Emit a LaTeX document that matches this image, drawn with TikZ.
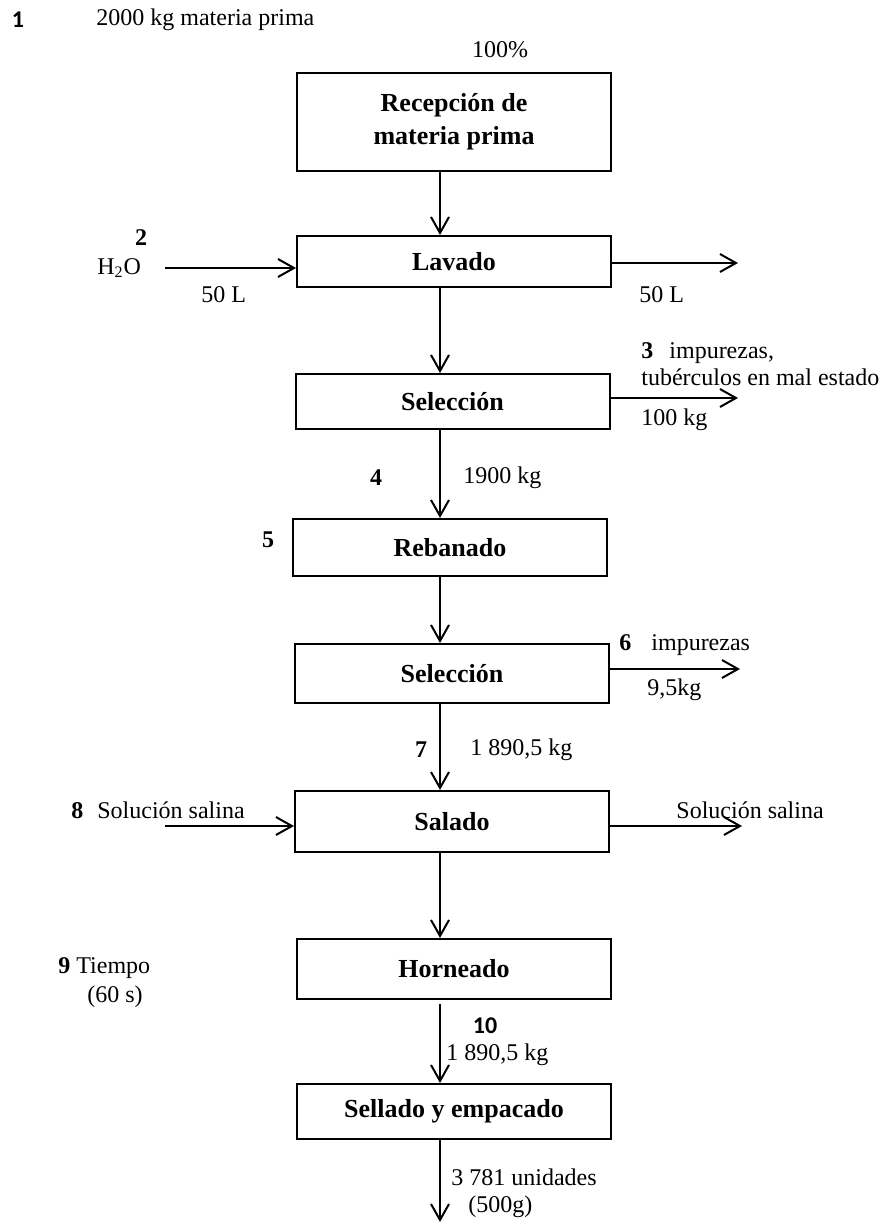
\documentclass[tikz,border=0pt]{standalone}
\usepackage{fontspec}
\setmainfont{Liberation Serif}
\newfontfamily\calibri{Carlito}
\usepackage{tikz}
\usetikzlibrary{arrows.meta}

\newcommand{\tamtexto}{\fontsize{12}{14.4}\selectfont}
\tikzset{
  etapa/.style={draw, line width=1pt, rectangle, minimum width=157pt, inner sep=0pt,
                align=center, font=\bfseries\fontsize{13}{16.5}\selectfont},
  flecha/.style={line width=1pt, -{Straight Barb[length=8pt,width=9pt]}},
  etiq/.style={inner sep=0pt, anchor=west},
  num/.style={inner sep=0pt, font=\tamtexto\bfseries},
  numc/.style={inner sep=0pt, font=\calibri\tamtexto\bfseries}
}

\begin{document}
\begin{tikzpicture}[x=0.5pt, y=-0.5pt, font=\tamtexto]
    % Fix the size of the page
    \useasboundingbox (0,0) rectangle (883,1224);

    % Process steps
    \node[etapa, minimum height=49pt]   (rec)  at (454,122)    {Recepción de\\materia prima};
    \node[etapa, minimum height=25.5pt] (lav)  at (454,261.5)  {Lavado};
    \node[etapa, minimum height=27.5pt] (sel1) at (452.5,401.5) {Selección};
    \node[etapa, minimum height=28.5pt] (reb)  at (450,547.5)  {Rebanado};
    \node[etapa, minimum height=29.5pt] (sel2) at (452,673.5)  {Selección};
    \node[etapa, minimum height=30.5pt] (sal)  at (452,821.5)  {Salado};
    \node[etapa, minimum height=30pt]   (hor)  at (454,969)    {Horneado};
    \node[etapa, minimum height=27.5pt] (sell) at (454,1111.5) {Sellado y empacado};

    % Main line of the flow
    \coordinate (eje) at (440,0);
    \coordinate (fin) at (440,1222);
    \draw[flecha] (rec.south -| eje) -- (lav.north -| eje);
    \draw[flecha] (lav.south -| eje) -- (sel1.north -| eje);
    \draw[flecha] (sel1.south -| eje) -- (reb.north -| eje);
    \draw[flecha] (reb.south -| eje) -- (sel2.north -| eje);
    \draw[flecha] (sel2.south -| eje) -- (sal.north -| eje);
    \draw[flecha] (sal.south -| eje) -- (hor.north -| eje);
    \draw[flecha, shorten <=2pt] (hor.south -| eje) -- (sell.north -| eje);
    \draw[flecha] (sell.south -| eje) -- (fin);

    % Inputs and outputs at the sides
    \coordinate (entAgua) at (165,268);
    \coordinate (salAgua) at (738,263);
    \coordinate (salImp1) at (738,398);
    \coordinate (salImp2) at (740,669);
    \coordinate (entSal)  at (165,826);
    \coordinate (salSal)  at (742,826);
    \draw[flecha] (entAgua) -- (lav.west |- entAgua);
    \draw[flecha] (lav.east |- salAgua) -- (salAgua);
    \draw[flecha] (sel1.east |- salImp1) -- (salImp1);
    \draw[flecha] (sel2.east |- salImp2) -- (salImp2);
    \draw[flecha] (entSal) -- (sal.west |- entSal);
    \draw[flecha] (sal.east |- salSal) -- (salSal);

    % Labels
    \node[numc] (n1) at (18,20) {1};
    \node[etiq] (mat) at (96,20) {2000 kg materia prima};
    \node[inner sep=0pt] (pct) at (500,50) {100\%};
    \node[num] (n2) at (141,238) {2};
    \node[etiq] (agua) at (97,268) {H\textsubscript{2}O};
    \node[etiq] (agua1) at (201,295) {50 L};
    \node[etiq] (agua2) at (639,295) {50 L};
    \node[etiq] (imp1) at (641,353) {\textbf{3}\hspace{8pt}impurezas,};
    \node[etiq] (tub) at (641,377) {tubérculos en mal estado};
    \node[etiq] (kg100) at (641,420) {100 kg};
    \node[num] (n4) at (376,478) {4};
    \node[etiq] (kg1900) at (463,478) {1900 kg};
    \node[num] (n5) at (268,540) {5};
    \node[etiq] (imp2) at (619,645) {\textbf{6}\hspace{10pt}impurezas};
    \node[etiq] (kg95) at (647,690) {9,5kg};
    \node[num] (n7) at (421,750) {7};
    \node[etiq] (kgsel) at (470,750) {1 890,5 kg};
    \node[etiq] (sol1) at (71,810) {\textbf{8}\hspace{7pt}Solución salina};
    \node[etiq] (sol2) at (676,810) {Solución salina};
    \node[etiq] (tiempo) at (58,968) {\textbf{9} Tiempo};
    \node[etiq] (seg) at (87,997) {(60 s)};
    \node[numc] (n10) at (485,1026) {10};
    \node[etiq] (kghor) at (446,1055) {1 890,5 kg};
    \node[etiq] (unid) at (451,1177) {3 781 unidades};
    \node[etiq] (peso) at (468,1207) {(500g)};
\end{tikzpicture}
\end{document}
